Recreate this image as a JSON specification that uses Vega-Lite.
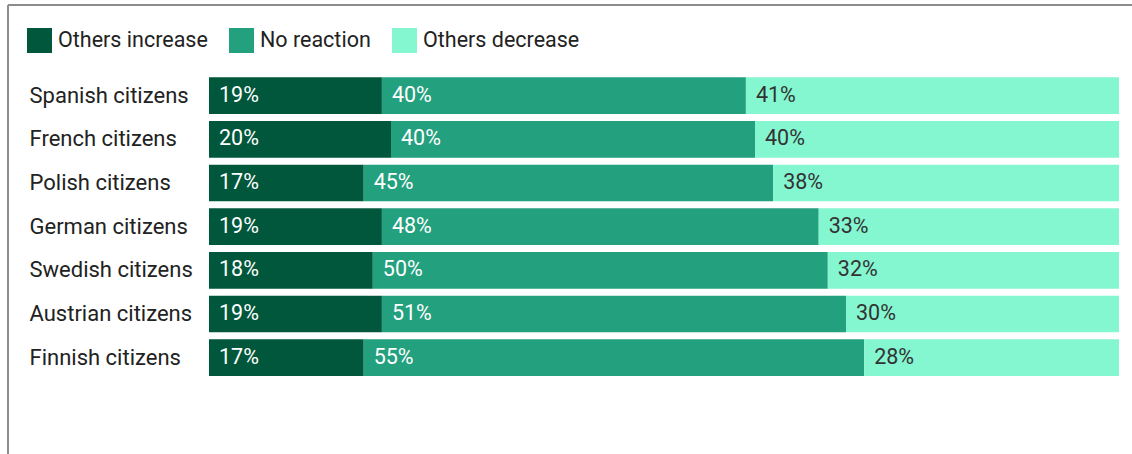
{
  "$schema": "https://vega.github.io/schema/vega-lite/v6.json",
  "width": 1124,
  "height": 449,
  "autosize": {"type": "none"},
  "padding": {"left": 8, "top": 5, "right": 0, "bottom": 0},
  "background": "white",
  "config": {
    "font": "Roboto",
    "view": {"stroke": "#8c8c8c", "strokeWidth": 2, "strokeDash": [1124, 1573, 449, 0]}
  },
  "data": {
    "values": [
      {"country": "Spanish citizens", "cat": "Others increase", "k": 1, "value": 0.19},
      {"country": "Spanish citizens", "cat": "No reaction", "k": 2, "value": 0.40},
      {"country": "Spanish citizens", "cat": "Others decrease", "k": 3, "value": 0.41},
      {"country": "French citizens", "cat": "Others increase", "k": 1, "value": 0.20},
      {"country": "French citizens", "cat": "No reaction", "k": 2, "value": 0.40},
      {"country": "French citizens", "cat": "Others decrease", "k": 3, "value": 0.40},
      {"country": "Polish citizens", "cat": "Others increase", "k": 1, "value": 0.17},
      {"country": "Polish citizens", "cat": "No reaction", "k": 2, "value": 0.45},
      {"country": "Polish citizens", "cat": "Others decrease", "k": 3, "value": 0.38},
      {"country": "German citizens", "cat": "Others increase", "k": 1, "value": 0.19},
      {"country": "German citizens", "cat": "No reaction", "k": 2, "value": 0.48},
      {"country": "German citizens", "cat": "Others decrease", "k": 3, "value": 0.33},
      {"country": "Swedish citizens", "cat": "Others increase", "k": 1, "value": 0.18},
      {"country": "Swedish citizens", "cat": "No reaction", "k": 2, "value": 0.50},
      {"country": "Swedish citizens", "cat": "Others decrease", "k": 3, "value": 0.32},
      {"country": "Austrian citizens", "cat": "Others increase", "k": 1, "value": 0.19},
      {"country": "Austrian citizens", "cat": "No reaction", "k": 2, "value": 0.51},
      {"country": "Austrian citizens", "cat": "Others decrease", "k": 3, "value": 0.30},
      {"country": "Finnish citizens", "cat": "Others increase", "k": 1, "value": 0.17},
      {"country": "Finnish citizens", "cat": "No reaction", "k": 2, "value": 0.55},
      {"country": "Finnish citizens", "cat": "Others decrease", "k": 3, "value": 0.28}
    ]
  },
  "transform": [
    {"stack": "value", "groupby": ["country"], "sort": [{"field": "k", "order": "ascending"}], "as": ["v0", "v1"]}
  ],
  "encoding": {
    "y": {
      "field": "country",
      "type": "nominal",
      "sort": null,
      "scale": {"paddingInner": 0.16, "paddingOuter": 0, "range": [72.3, 371]},
      "axis": {
        "title": null,
        "domain": false,
        "ticks": false,
        "grid": false,
        "labelAlign": "left",
        "labelPadding": -21,
        "labelFontSize": 22,
        "labelColor": "#222222",
        "labelLimit": 0
      }
    }
  },
  "layer": [
    {
      "mark": {"type": "bar"},
      "encoding": {
        "x": {
          "field": "v0",
          "type": "quantitative",
          "scale": {"domain": [-0.22088, 1.01428], "nice": false, "zero": false},
          "axis": null
        },
        "x2": {"field": "v1"},
        "color": {
          "field": "cat",
          "type": "nominal",
          "scale": {
            "domain": ["Others increase", "No reaction", "Others decrease"],
            "range": ["#00573b", "#23a07e", "#84f6d0"]
          },
          "legend": {
            "orient": "none",
            "legendX": 19,
            "legendY": 23,
            "direction": "horizontal",
            "title": null,
            "symbolType": "square",
            "symbolSize": 625,
            "symbolStrokeWidth": 0,
            "symbolOpacity": 1,
            "labelFontSize": 21.5,
            "labelColor": "#222222",
            "labelOffset": 6,
            "columnPadding": 21,
            "labelLimit": 0
          }
        }
      }
    },
    {
      "mark": {"type": "text", "align": "left", "baseline": "middle", "dx": 10, "fontSize": 21.5},
      "encoding": {
        "x": {"field": "v0", "type": "quantitative"},
        "text": {"field": "value", "type": "quantitative", "format": ".0%"},
        "color": {
          "condition": {"test": "datum.cat === 'Others decrease'", "value": "#333333"},
          "value": "#ffffff"
        }
      }
    }
  ]
}
